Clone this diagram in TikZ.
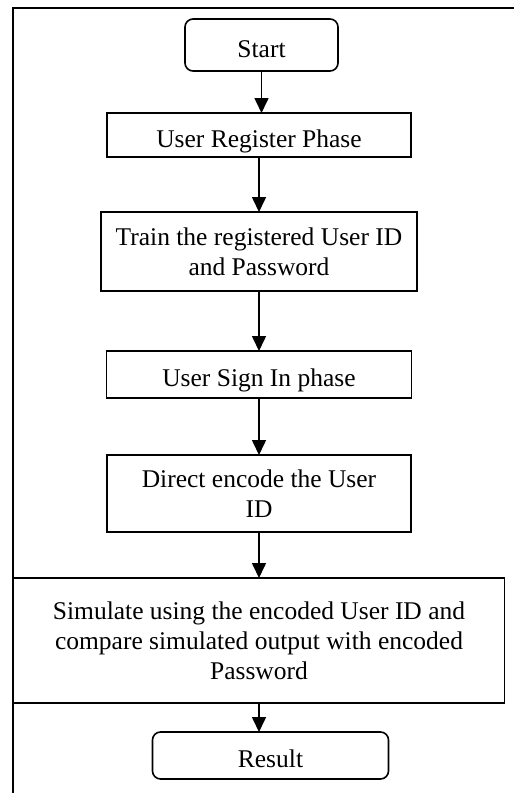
\documentclass[tikz,border=0pt]{standalone}
\usepackage{fontspec}
\setmainfont{Liberation Serif}
\usepackage{tikz}
\usetikzlibrary{positioning, arrows.meta}

\begin{document}
\begin{tikzpicture}[x=1pt, y=-1pt, line width=1.6pt,
    font=\fontsize{25.5}{30}\selectfont,
    box/.style={draw, rectangle, inner sep=0pt, outer sep=0pt},
    oneline/.style={text height=24pt, text depth=0pt},
    arr/.style={-{Triangle[width=14pt, length=15pt]}}]
    \useasboundingbox (0,0) rectangle (514,793);
    \draw (514,8) -- (13,8) -- (13,793);

    \node[box, oneline, rounded corners=8pt, minimum width=153pt, minimum height=52pt] (start) at (261.5,45) {Start};
    \node[box, oneline, minimum width=304pt, minimum height=44pt, below=42pt of start, xshift=-2.5pt] (register) {User Register Phase};
    \node[box, align=center, minimum width=316pt, minimum height=79pt, below=55pt of register] (train) {Train the registered User ID\\ and Password};
    \node[box, oneline, minimum width=305pt, minimum height=47pt, below=60pt of train] (signin) {User Sign In phase};
    \node[box, align=center, minimum width=304pt, minimum height=77pt, below=57pt of signin] (encode) {Direct encode the User\\ ID};
    \node[box, align=center, minimum width=491pt, minimum height=125pt, below=46pt of encode] (simulate) {Simulate using the encoded User ID and\\ compare simulated output with encoded\\ Password};
    \node[box, oneline, rounded corners=8pt, minimum width=236pt, minimum height=47pt, below=29pt of simulate, xshift=11.5pt] (result) {Result};

    \draw[arr] (start.south) -- (start.south |- register.north);
    \draw[arr] (register) -- (train);
    \draw[arr] (train) -- (signin);
    \draw[arr] (signin) -- (encode);
    \draw[arr] (encode) -- (simulate);
    \draw[arr] (simulate.south) -- (simulate.south |- result.north);
\end{tikzpicture}
\end{document}
